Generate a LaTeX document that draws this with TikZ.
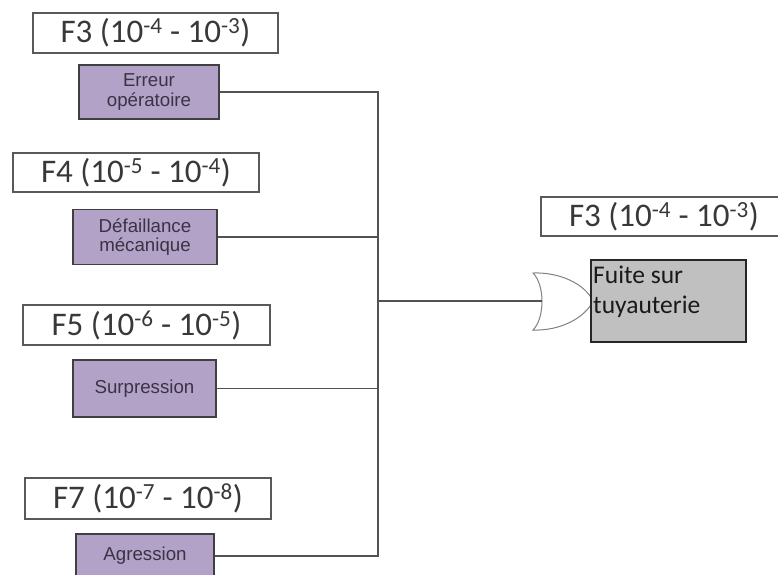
\documentclass[tikz,border=0pt]{standalone}
\usepackage{fontspec}
\setmainfont{Carlito}
\newfontfamily\evfont{Liberation Sans}
\definecolor{evpurple}{HTML}{B3A2C7}
\definecolor{evtext}{HTML}{3A3344}
\definecolor{topgray}{HTML}{C0C0C0}
\newcommand{\expo}[1]{\textsuperscript{#1}}
\begin{document}
\begin{tikzpicture}[x=1pt,y=-1pt,
  ratebox/.style={draw=black!65, line width=1.3pt, fill=white, inner sep=0pt,
    text=black!78, font=\fontsize{33}{38}\selectfont},
  eventbox/.style={draw=black!75, line width=1.3pt, fill=evpurple, inner sep=0pt,
    align=center, text=evtext, font=\evfont\fontsize{18.7}{19.5}\selectfont},
  topbox/.style={draw=black!85, line width=1.2pt, fill=topgray, inner sep=0pt},
  wire/.style={draw=black!68, line width=1.4pt},
  orgate/.style={draw=black!50, line width=1pt, fill=white}]
\useasboundingbox (0,0) rectangle (778,574);
\clip (0,0) rectangle (778,574);

% basic events with their frequency classes
\node[ratebox, minimum width=245pt, minimum height=40pt] (f1) at (155.5,33)
  {F3 (10\expo{-4} - 10\expo{-3})};
\node[eventbox, minimum width=140pt, minimum height=54pt] (e1) at (149,92)
  {Erreur\\opératoire};

\node[ratebox, minimum width=246pt, minimum height=39pt] (f2) at (136,172.5)
  {F4 (10\expo{-5} - 10\expo{-4})};
\node[eventbox, minimum width=144pt, minimum height=55pt] (e2) at (145,237)
  {Défaillance\\mécanique};

\node[ratebox, minimum width=247pt, minimum height=40pt] (f3) at (146.5,325)
  {F5 (10\expo{-6} - 10\expo{-5})};
\node[eventbox, minimum width=143pt, minimum height=57pt] (e3) at (144.5,388.5)
  {Surpression};

\node[ratebox, minimum width=246pt, minimum height=41pt] (f4) at (148,498.5)
  {F7 (10\expo{-7} - 10\expo{-8})};
\node[eventbox, minimum width=138pt, minimum height=44pt] (e4) at (145,556)
  {Agression};

% OR gate
\draw[orgate] (533,273) .. controls (545,285) and (545,318) .. (533,330)
  .. controls (560,331) and (585,318) .. (593,301)
  .. controls (585,284) and (560,272) .. (533,273) -- cycle;
\coordinate (gatein) at (542,301);
\coordinate (join) at (378,301);

% top event
\node[ratebox, minimum width=246pt, minimum height=39pt] (ftop) at (664,216.5)
  {F3 (10\expo{-4} - 10\expo{-3})};
\node[topbox, minimum width=155pt, minimum height=82pt] (top) at (668.5,301) {};
\node[anchor=north west, inner sep=0pt, align=left, text=black!90,
  font=\fontsize{25.5}{30}\selectfont] (toptext) at (593,266)
  {Fuite sur\\tuyauterie};

% connections into the gate
\draw[wire] (e1.east) -| (join);
\draw[wire] (e2.east) -| (join);
\draw[wire] (e3.east) -| (join);
\draw[wire] (e4.east) -| (join);
\draw[wire] (join) -- (gatein);
\end{tikzpicture}
\end{document}
